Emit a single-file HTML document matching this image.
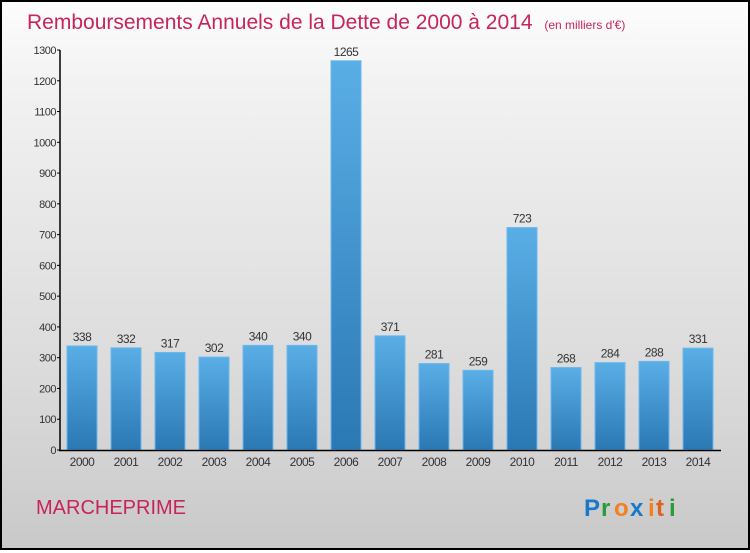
<!DOCTYPE html>
<html><head><meta charset="utf-8"><style>
body{margin:0;width:750px;height:550px;overflow:hidden;font-family:"Liberation Sans",sans-serif}
#c{position:absolute;left:0;top:0;width:746px;height:546px;border:2px solid #000;background:linear-gradient(#fdfdfd,#f2f2f2 15%,#dadada 70%,#c9c9c9)}
</style></head><body>
<div id="c">
<svg width="746" height="546" viewBox="2 2 746 546" id="s">
<defs><linearGradient id="g" x1="0" y1="0" x2="0" y2="1"><stop offset="0" stop-color="#5aaee6"/><stop offset="1" stop-color="#2a78b4"/></linearGradient></defs>
<text x="27" y="29" font-size="21" fill="#c8245a">Remboursements Annuels de la Dette de 2000 à 2014 <tspan font-size="12" dx="6">(en milliers d'€)</tspan></text>
<text x="36" y="514" font-size="20" fill="#c8245a">MARCHEPRIME</text>
<g font-size="24" font-weight="bold"><text x="584" y="516" fill="#1a78c8">P</text><text x="601" y="516" fill="#2a9a3a">r</text><text x="614" y="516" fill="#f08020">o</text><text x="630" y="516" fill="#1a78c8">x</text><text x="648" y="516" fill="#f08020">i</text><text x="656" y="516" fill="#e06020">t</text><text x="669" y="516" fill="#2a9a3a">i</text></g>
<g id="plot"></g>
</svg></div>
<script>
const categories=["2000","2001","2002","2003","2004","2005","2006","2007","2008","2009","2010","2011","2012","2013","2014"];
const values=[338,332,317,302,340,340,1265,371,281,259,723,268,284,288,331];
const ticks=[0,100,200,300,400,500,600,700,800,900,1000,1100,1200,1300];
const ns="http://www.w3.org/2000/svg";
const y=v=>450-v*400/1300;
const x=i=>82+i*44;
const p=document.getElementById('plot');
function mk(t,a,txt){const e=document.createElementNS(ns,t);for(const k in a)e.setAttribute(k,a[k]);if(txt!==undefined)e.textContent=txt;p.appendChild(e);return e;}
ticks.forEach(t=>{
 let l=mk('line',{x1:57,x2:60,y1:y(t),y2:y(t),stroke:'#000'});
 
 
 let tx=mk('text',{x:56,y:y(t)+4,'font-size':11,fill:'#333','text-anchor':'end','letter-spacing':'-0.5'},t);
 
 
});
values.forEach((v,i)=>{
 let r=mk('rect',{x:x(i)-15,y:y(v),width:30,height:450-y(v),fill:'url(#g)',stroke:'#6bb8ec','stroke-width':1});
 
 
 let vl=mk('text',{x:x(i),y:y(v)-5,'font-size':12,fill:'#333','text-anchor':'middle','letter-spacing':'-0.5'},v);
 
 
 let xl=mk('text',{x:x(i),y:466,'font-size':12,fill:'#333','text-anchor':'middle','letter-spacing':'-0.5'},categories[i]);
 
 
});
let ya=mk('line',{x1:60,x2:60,y1:y(1300),y2:451,stroke:'#000','stroke-width':1.5});


let xa=mk('line',{x1:59,x2:721,y1:450.5,y2:450.5,stroke:'#000','stroke-width':1.5});


</script>
</body></html>
